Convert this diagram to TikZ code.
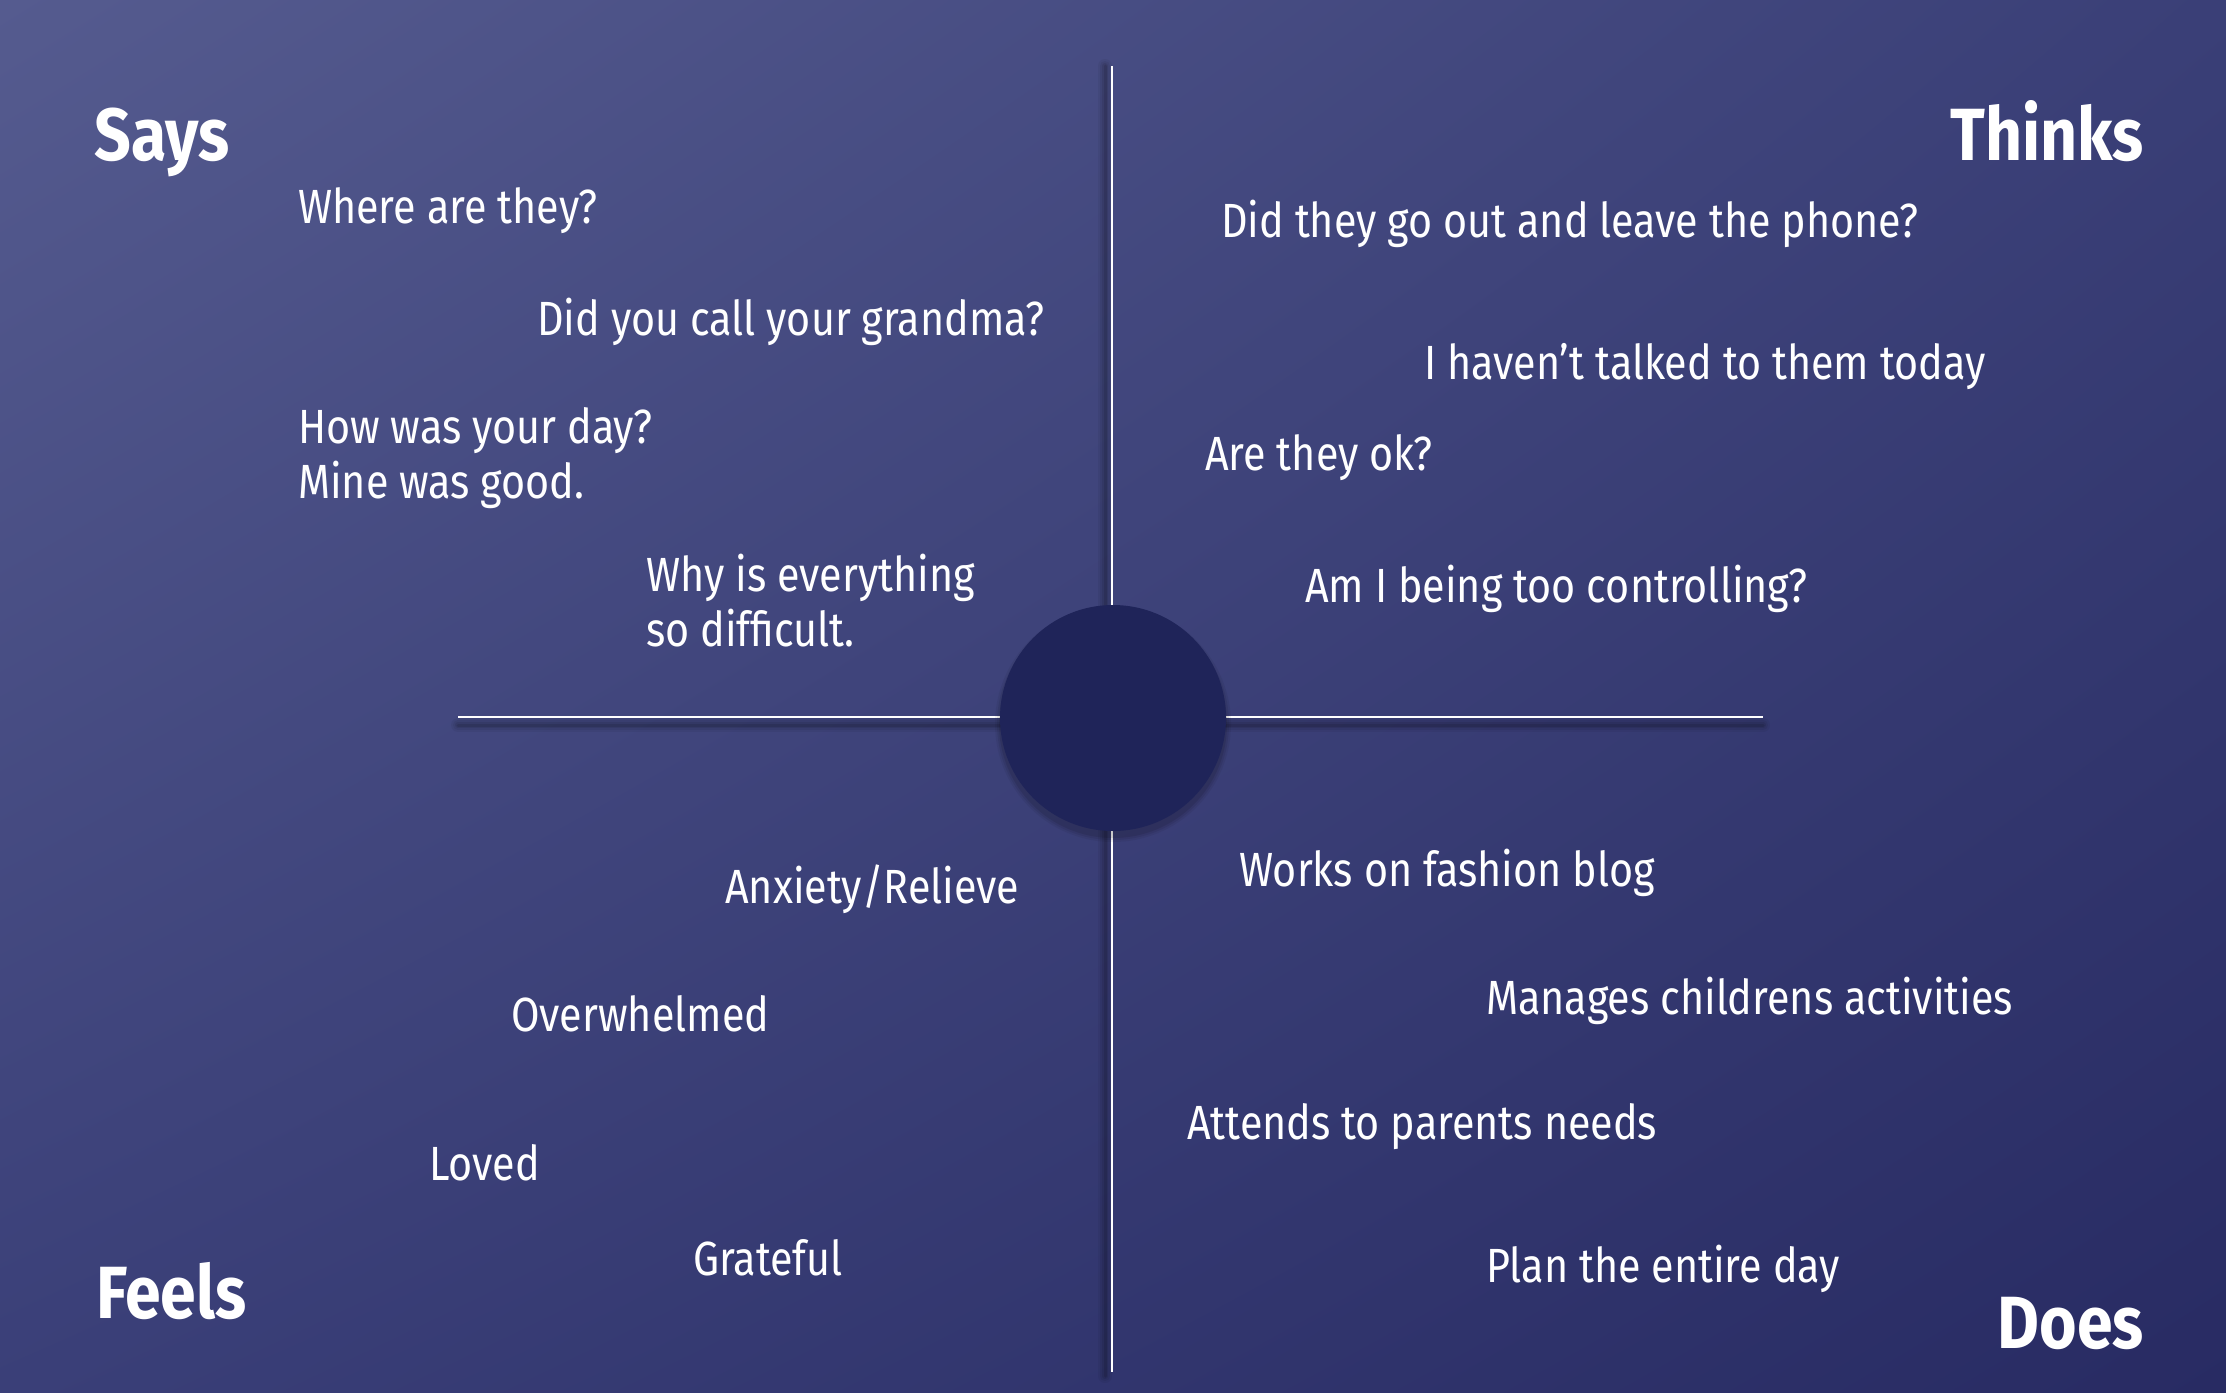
\documentclass[tikz,border=0pt]{standalone}
\usepackage{fontspec}
\setmainfont{Fira Sans}[FakeStretch=0.86, BoldFeatures={FakeStretch=0.87}]
\usetikzlibrary{positioning,shadings}
\definecolor{bgUL}{HTML}{555B8F}
\definecolor{bgUR}{HTML}{3A3F77}
\definecolor{bgLL}{HTML}{3A3F78}
\definecolor{bgLR}{HTML}{282B63}
\definecolor{hub}{HTML}{1F2459}
\tikzset{
  item/.style={text=white, anchor=base west, inner sep=0pt, font=\fontsize{48}{55}\selectfont, align=left},
  headL/.style={text=white, anchor=base west, inner sep=0pt, font=\fontsize{74}{80}\selectfont\bfseries},
  headR/.style={text=white, anchor=base east, inner sep=0pt, font=\fontsize{74}{80}\selectfont\bfseries},
  axis/.style={draw=white, line width=2.2pt},
  shadowline/.style={draw=black, line cap=round},
}
\begin{document}
\begin{tikzpicture}[x=1pt, y=-1pt]
\shade[upper left=bgUL, upper right=bgUR, lower left=bgLL, lower right=bgLR] (0,0) rectangle (2226,1392);
\useasboundingbox (0,0) rectangle (2226,1392);

% axis end points
\coordinate (vtop) at (1112,66);
\coordinate (vbot) at (1112,1372);
\coordinate (hl) at (458,717);
\coordinate (hr) at (1763,717);

% soft shadows of axes
\foreach \w/\o in {14/0.05,10/0.06,6/0.08,3/0.1}{
  \draw[shadowline, line width=\w pt, opacity=\o] ([xshift=-7pt]vtop) -- ([xshift=-7pt,yshift=-4pt]vbot);
  \draw[shadowline, line width=\w pt, opacity=\o] ([yshift=-8pt]hl) -- ([yshift=-8pt]hr);
}
\draw[axis] (vtop) -- (vbot);
\draw[axis] (hl) -- (hr);

% hub with shadow
\foreach \r/\o in {118/0.05,116/0.07,114/0.09}{
  \fill[black, opacity=\o] (1113,724) circle (\r pt);
}
\node[circle, fill=hub, minimum size=226pt, inner sep=0pt] (hub) at (1113,718) {};

% headers
\node[headL] (says) at (94,160) {Says};
\node[headR] (thinks) at (2144,160) {Thinks};
\node[headL] (feels) at (96,1318) {Feels};
\node[headR] (does) at (2144,1348) {Does};

% Says
\node[item] (s1) at (298,223) {Where are they?};
\node[item] (s2) at (537,335) {Did you call your grandma?};
\node[item] (s3) at (298,498) {How was your day?\\Mine was good.};
\node[item] (s4) at (646,646) {Why is everything\\so difficult.};

% Thinks
\node[item] (t1) at (1221,237) {Did they go out and leave the phone?};
\node[item] (t2) at (1424,379) {I haven’t talked to them today};
\node[item] (t3) at (1205,470) {Are they ok?};
\node[item] (t4) at (1305,602) {Am I being too controlling?};

% Feels
\node[item] (f1) at (725,903) {Anxiety/Relieve};
\node[item] (f2) at (511,1031) {Overwhelmed};
\node[item] (f3) at (429,1180) {Loved};
\node[item] (f4) at (693,1275) {Grateful};

% Does
\node[item] (d1) at (1239,886) {Works on fashion blog};
\node[item] (d2) at (1486,1014) {Manages childrens activities};
\node[item] (d3) at (1187,1139) {Attends to parents needs};
\node[item] (d4) at (1486,1282) {Plan the entire day};
\end{tikzpicture}
\end{document}
